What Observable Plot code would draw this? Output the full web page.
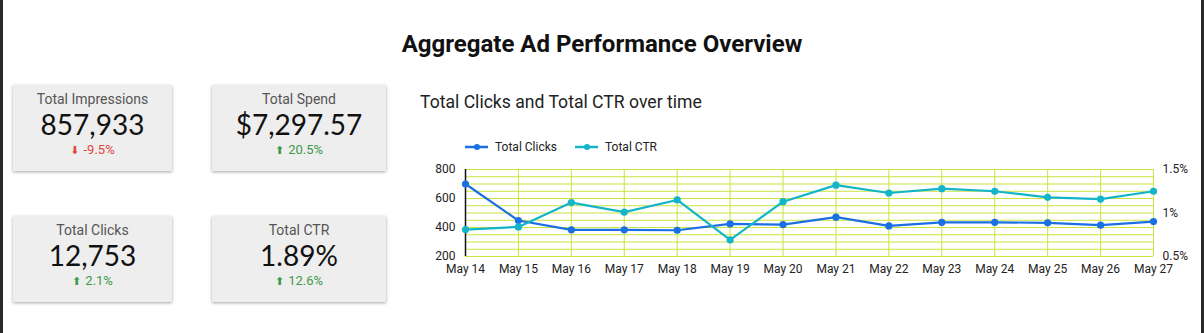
<!DOCTYPE html>
<html><head><meta charset="utf-8">
<script src="https://cdn.jsdelivr.net/npm/d3@7"></script>
<script src="https://cdn.jsdelivr.net/npm/@observablehq/plot@0.6"></script>
<style>
body{margin:0;width:1204px;height:333px;position:relative;background:#fff;font-family:Roboto,sans-serif;overflow:hidden}
.edgeL{position:absolute;left:0;top:0;width:3px;height:333px;background:#2a2a2a}
.edgeR{position:absolute;left:1201px;top:0;width:3px;height:333px;background:#2a2a2a}
#title{position:absolute;left:0;width:1204px;top:29px;line-height:30px;text-align:center;font-size:24px;font-weight:700;color:#111}
.card{position:absolute;width:159px;height:86px;background:#eeeeee;box-shadow:0 1px 3px rgba(0,0,0,0.35)}
.card .lab{position:absolute;left:0;right:0;top:6px;height:16px;line-height:16px;text-align:center;font-size:14px;color:#555}
.card .val{position:absolute;left:0;right:0;top:22px;height:34px;line-height:34px;text-align:center;font-family:Lato;font-size:28px;color:#111}
.card .del{position:absolute;left:0;right:0;top:57px;height:16px;line-height:16px;text-align:center;font-size:13px}
.card .del .ar{font-family:"DejaVu Sans";font-size:11px;margin-right:4px}
#ctitle{position:absolute;left:420px;top:90px;line-height:24px;font-size:17.6px;color:#222}
#legend{position:absolute;left:465px;top:139px;height:16px;font-size:12px;color:#222}
#legend .it{position:absolute;top:0;white-space:nowrap;line-height:16px}
#legend svg{position:absolute;top:0}
#chart{position:absolute;left:410px;top:160px}
</style></head>
<body>
<div class="edgeL"></div><div class="edgeR"></div>
<div id="title">Aggregate Ad Performance Overview</div>
<div id="cards"></div>
<div id="ctitle">Total Clicks and Total CTR over time</div>
<div id="legend"></div>
<div id="chart"></div>
<script>
// KPI data
const kpiLabels = ["Total Impressions", "Total Spend", "Total Clicks", "Total CTR"];
const kpiValues = ["857,933", "$7,297.57", "12,753", "1.89%"];
const kpiDeltas = ["-9.5%", "20.5%", "2.1%", "12.6%"];
const kpiUp = [false, true, true, true];

// Time series
const dates = ["May 14","May 15","May 16","May 17","May 18","May 19","May 20","May 21","May 22","May 23","May 24","May 25","May 26","May 27"];
const clicks = [700, 448, 384, 384, 381, 425, 420, 471, 411, 436, 436, 432, 416, 441];
const ctr = [0.81, 0.84, 1.12, 1.01, 1.15, 0.69, 1.13, 1.32, 1.23, 1.28, 1.25, 1.18, 1.16, 1.25];

// Axis ticks
const leftTicks = [200, 400, 600, 800];
const rightTicks = [0.5, 1, 1.5];
const rightTickLabels = ["0.5%", "1%", "1.5%"];
const gridLines = [200, 250, 300, 350, 400, 450, 500, 550, 600, 650, 700, 750, 800];

const seriesNames = ["Total Clicks", "Total CTR"];
const colors = ["#1a6fe3", "#14b4c9"];

// cards
const cardPos = [[13,85],[212,85],[13,216],[212,216]];
const cardsEl = document.getElementById("cards");
kpiLabels.forEach((l,i) => {
  const c = document.createElement("div");
  c.className = "card";
  c.style.left = cardPos[i][0] + "px";
  c.style.top = cardPos[i][1] + "px";
  if (i % 2 === 1) c.style.width = "174px";
  const col = kpiUp[i] ? "#3a9a48" : "#e2453c";
  c.innerHTML = `<div class="lab">${l}</div><div class="val">${kpiValues[i]}</div>` +
    `<div class="del" style="color:${col}"><span class="ar">${kpiUp[i] ? "⬆" : "⬇"}</span>${kpiDeltas[i]}</div>`;
  cardsEl.appendChild(c);
});

// legend
const legendEl = document.getElementById("legend");
const legOffsets = [0, 110];
seriesNames.forEach((n,i) => {
  const x = legOffsets[i];
  legendEl.insertAdjacentHTML("beforeend",
    `<svg width="24" height="16" style="left:${x}px"><line x1="0" x2="23" y1="8" y2="8" stroke="${colors[i]}" stroke-width="2.5"/><circle cx="12" cy="8" r="3" fill="${colors[i]}"/></svg>` +
    `<div class="it" style="left:${x+30}px">${n}</div>`);
});

// CTR mapped onto the clicks scale (dual axis)
const toLeft = v => 200 + (v - 0.5) * 600;
const rows = dates.map((d,i) => ({date: d, clicks: clicks[i], ctr: toLeft(ctr[i])}));
const grid = "#c9e43e";

const plot = Plot.plot({
  width: 794, height: 125,
  marginLeft: 55, marginRight: 51, marginTop: 9, marginBottom: 29,
  style: {fontFamily: "Roboto", fontSize: "12px", color: "#222", background: "transparent"},
  x: {type: "point", domain: dates, padding: 0, round: false, axis: null, label: null},
  y: {domain: [200, 800], axis: null, label: null},
  marks: [
    Plot.ruleY(gridLines, {stroke: grid, strokeWidth: 1, strokeOpacity: 1}),
    Plot.ruleX(dates, {stroke: grid, strokeWidth: 1, strokeOpacity: 1}),
    Plot.ruleX([dates[0]], {stroke: "#111", strokeWidth: 1.5}),
    Plot.line(rows, {x: "date", y: "clicks", stroke: colors[0], strokeWidth: 2.2}),
    Plot.dot(rows, {x: "date", y: "clicks", fill: colors[0], r: 3.6}),
    Plot.line(rows, {x: "date", y: "ctr", stroke: colors[1], strokeWidth: 2.2}),
    Plot.dot(rows, {x: "date", y: "ctr", fill: colors[1], r: 3.6}),
    Plot.axisY(leftTicks, {anchor: "left", tickSize: 0, tickPadding: 10, fontSize: 12, label: null}),
    Plot.axisY(rightTicks.map(toLeft), {anchor: "right", tickSize: 0, tickPadding: 9, fontSize: 12, label: null,
      tickFormat: v => rightTickLabels[rightTicks.map(toLeft).indexOf(v)]}),
    Plot.axisX(dates, {tickSize: 0, tickPadding: 8, fontSize: 12, label: null})
  ]
});
document.getElementById("chart").appendChild(plot);
</script>
</body></html>
